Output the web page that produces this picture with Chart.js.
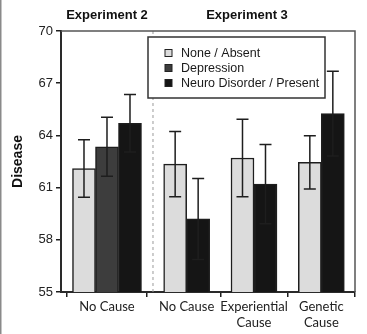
<!DOCTYPE html>
<html>
<head>
<meta charset="utf-8">
<script src="https://cdn.jsdelivr.net/npm/chart.js@4.4.1/dist/chart.umd.min.js"></script>
<style>
  html, body { margin: 0; padding: 0; background: #fff; }
  #wrap { width: 367px; height: 334px; }
</style>
</head>
<body>
<div id="wrap"><canvas id="chart" width="367" height="334"></canvas></div>
<script>
// chart values
const categories = ['No Cause', 'No Cause', ['Experiential', 'Cause'], ['Genetic', 'Cause']];
const experiments = ['Experiment 2', 'Experiment 3'];
const categoryExperiment = [0, 1, 1, 1];
const seriesNames = ['None / Absent', 'Depression', 'Neuro Disorder / Present'];
const noneValues = [62.1, 62.35, 62.7, 62.45];
const noneErrors = [1.65, 1.87, 2.23, 1.53];
const depressionValues = [63.35, null, null, null];
const depressionErrors = [1.7, null, null, null];
const neuroValues = [64.7, 59.2, 61.2, 65.25];
const neuroErrors = [1.65, 2.33, 2.28, 2.43];
const yTicks = [55, 58, 61, 64, 67, 70];

// Experiment 2 panel is a bit wider than one category
const EXP_GAP = 0.366;
const catX = (i) => i + 0.5 + (categoryExperiment[i] ? EXP_GAP : EXP_GAP / 2);
const divider = 1 + EXP_GAP;

const INK = '#1e1e1e';
const FONT = "'Liberation Sans', Arial, sans-serif";

function makeSeries(label, values, errors, color) {
    return {
        label,
        data: values.map((v, i) => ({ x: catX(i), y: v })),
        errors,
        backgroundColor: color,
        borderColor: INK,
        borderWidth: 1.5,
        barThickness: 23,
        skipNull: true
    };
}

const decorPlugin = {
    id: 'decor',
    beforeDatasetsDraw(chart) {
        const { ctx, chartArea: a, scales: { x } } = chart;
        const dx = x.getPixelForValue(divider);
        ctx.save();
        ctx.strokeStyle = '#9a9a9a';
        ctx.lineWidth = 1;
        ctx.setLineDash([3, 3]);
        ctx.beginPath();
        ctx.moveTo(dx, a.top);
        ctx.lineTo(dx, a.bottom);
        ctx.stroke();
        ctx.restore();
    },
    afterDatasetsDraw(chart) {
        const { ctx, scales: { y } } = chart;
        ctx.save();
        ctx.strokeStyle = INK;
        ctx.lineWidth = 1.5;
        chart.data.datasets.forEach((ds, di) => {
            const meta = chart.getDatasetMeta(di);
            meta.data.forEach((bar, i) => {
                const v = ds.data[i].y;
                const e = ds.errors[i];
                if (v == null || e == null) return;
                const hi = y.getPixelForValue(v + e);
                const lo = y.getPixelForValue(v - e);
                ctx.beginPath();
                ctx.moveTo(bar.x, hi); ctx.lineTo(bar.x, lo);
                ctx.moveTo(bar.x - 6, hi); ctx.lineTo(bar.x + 6, hi);
                ctx.moveTo(bar.x - 6, lo); ctx.lineTo(bar.x + 6, lo);
                ctx.stroke();
            });
        });
        ctx.restore();
    },
    afterDraw(chart) {
        const { ctx, chartArea: a, scales: { x } } = chart;
        ctx.save();

        // top and right frame
        ctx.strokeStyle = '#555';
        ctx.lineWidth = 1.5;
        ctx.beginPath();
        ctx.moveTo(a.left, a.top);
        ctx.lineTo(a.right, a.top);
        ctx.lineTo(a.right, a.bottom);
        ctx.stroke();

        // experiment headers
        ctx.fillStyle = '#111';
        ctx.font = 'bold 13px ' + FONT;
        ctx.textAlign = 'center';
        ctx.textBaseline = 'middle';
        const nudge = [0, -7];
        experiments.forEach((name, k) => {
            const xs = categoryExperiment.map((e, i) => e === k ? x.getPixelForValue(catX(i)) : null).filter(p => p != null);
            const cx = xs.reduce((s, p) => s + p, 0) / xs.length;
            ctx.fillText(name, cx + nudge[k], 15);
        });

        // legend box
        const bx = a.left + 87, by = a.top + 6, bw = 177, bh = 61;
        ctx.fillStyle = '#fff';
        ctx.fillRect(bx, by, bw, bh);
        ctx.strokeStyle = '#333';
        ctx.lineWidth = 1.5;
        ctx.strokeRect(bx, by, bw, bh);
        ctx.font = '12.5px ' + FONT;
        ctx.textAlign = 'left';
        chart.data.datasets.forEach((ds, i) => {
            const cy = by + 16 + i * 15;
            ctx.fillStyle = ds.backgroundColor;
            ctx.fillRect(bx + 17, cy - 3.5, 7, 7);
            ctx.strokeStyle = '#222';
            ctx.lineWidth = 1;
            ctx.strokeRect(bx + 17, cy - 3.5, 7, 7);
            ctx.fillStyle = '#1a1a1a';
            ctx.fillText(ds.label, bx + 33, cy + 0.5);
        });

        // page edge line
        ctx.fillStyle = '#8a8a8a';
        ctx.fillRect(0, 0, 1.5, chart.height);
        ctx.restore();
    }
};

new Chart(document.getElementById('chart'), {
    type: 'bar',
    data: {
        datasets: [
            makeSeries(seriesNames[0], noneValues, noneErrors, '#dcdcdc'),
            makeSeries(seriesNames[1], depressionValues, depressionErrors, '#3d3d3d'),
            makeSeries(seriesNames[2], neuroValues, neuroErrors, '#151515')
        ]
    },
    options: {
        responsive: false,
        animation: false,
        layout: { padding: { top: 31, right: 12, bottom: 0, left: 0 } },
        plugins: { legend: { display: false }, tooltip: { enabled: false } },
        scales: {
            x: {
                type: 'linear',
                min: 0,
                max: categories.length + EXP_GAP,
                offset: false,
                afterBuildTicks: (s) => { s.ticks = categories.map((c, i) => ({ value: catX(i) })); },
                afterFit: (s) => { s.height = 42; },
                grid: { drawOnChartArea: false, tickLength: 5, color: INK, lineWidth: 1.5 },
                border: { color: '#2a2a2a', width: 2 },
                ticks: {
                    autoSkip: false,
                    maxRotation: 0,
                    padding: 2,
                    color: '#222',
                    font: { family: 'Lato', size: 13 },
                    callback: (v, i) => categories[i]
                }
            },
            y: {
                min: 55,
                max: 70,
                afterBuildTicks: (s) => { s.ticks = yTicks.map(v => ({ value: v })); },
                afterFit: (s) => { s.width = 61; },
                grid: { drawOnChartArea: false, tickLength: 5, color: INK, lineWidth: 1.5 },
                border: { color: '#2a2a2a', width: 2 },
                ticks: { padding: 3, color: '#222', font: { family: FONT, size: 13 } },
                title: {
                    display: true,
                    text: 'Disease',
                    color: '#111',
                    font: { family: FONT, size: 14, weight: 'bold' },
                    padding: { top: 10, bottom: 0 }
                }
            }
        }
    },
    plugins: [decorPlugin]
});
</script>
</body>
</html>
